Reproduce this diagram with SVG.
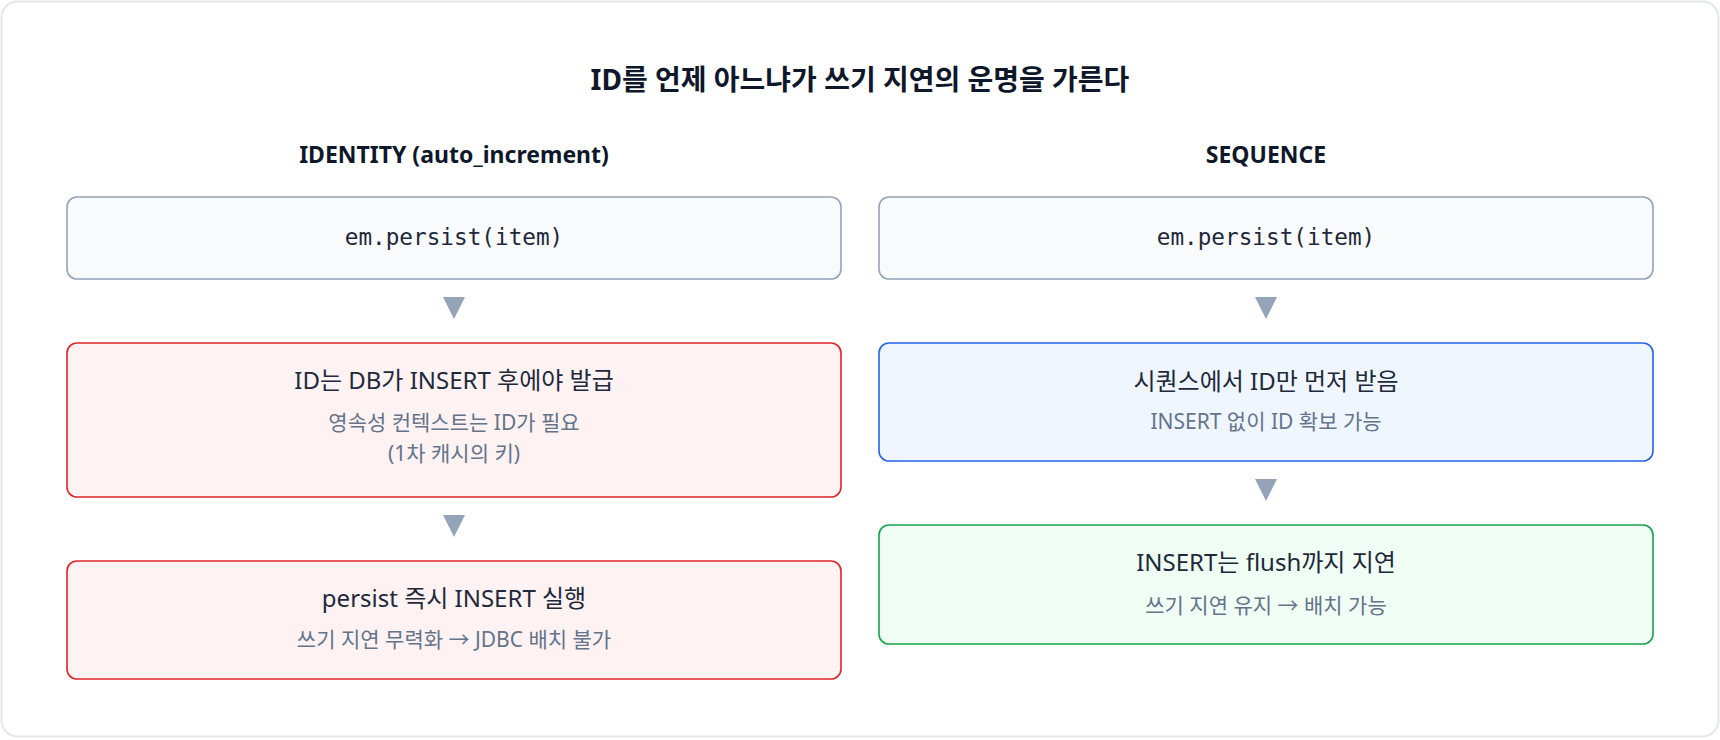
<svg xmlns="http://www.w3.org/2000/svg" width="1720" height="740" viewBox="0 0 1720 740">
  <style>
    .title { font-family: "Noto Sans", "Noto Sans CJK KR", sans-serif; font-size: 28px; font-weight: 700; fill: #0f172a; text-anchor: middle; }
    .head { font-family: "Noto Sans", "Noto Sans CJK KR", sans-serif; font-size: 23px; font-weight: 700; fill: #0f172a; text-anchor: middle; }
    .mono { font-family: "DejaVu Sans Mono", "Liberation Mono", monospace; font-size: 22.7px; fill: #1e293b; text-anchor: middle; }
    .main { font-family: "Noto Sans", "Noto Sans CJK KR", sans-serif; font-size: 24px; fill: #1e293b; text-anchor: middle; }
    .sub { font-family: "Noto Sans", "Noto Sans CJK KR", sans-serif; font-size: 21px; fill: #64748b; text-anchor: middle; }
    .neutral { fill: #f8fafc; stroke: #94a3b8; stroke-width: 1.6; }
    .bad { fill: #fef2f2; stroke: #dc2626; stroke-width: 1.6; }
    .info { fill: #eff6ff; stroke: #2563eb; stroke-width: 1.6; }
    .good { fill: #f0fdf4; stroke: #16a34a; stroke-width: 1.6; }
    .arrow { fill: #94a3b8; }
  </style>
  <rect x="0" y="0" width="1720" height="740" fill="#ffffff"/>
  <rect x="1.5" y="1.5" width="1717" height="735" rx="16" fill="#ffffff" stroke="#e5e7eb" stroke-width="2"/>

  <g id="title">
    <text class="title" x="860" y="90">ID를 언제 아느냐가 쓰기 지연의 운명을 가른다</text>
  </g>
  <g id="heading-identity">
    <text class="head" x="454" y="163">IDENTITY (auto_increment)</text>
  </g>
  <g id="heading-sequence">
    <text class="head" x="1266" y="163">SEQUENCE</text>
  </g>

  <g id="connectors">
    <polygon class="arrow" points="443,297 465,297 454,319"/>
    <polygon class="arrow" points="443,515 465,515 454,537"/>
    <polygon class="arrow" points="1255,297 1277,297 1266,319"/>
    <polygon class="arrow" points="1255,479 1277,479 1266,501"/>
  </g>

  <g id="identity-persist">
    <rect class="neutral" x="67" y="197" width="774" height="82" rx="10"/>
    <text class="mono" x="454" y="245">em.persist(item)</text>
  </g>
  <g id="identity-id-issue">
    <rect class="bad" x="67" y="343" width="774" height="154" rx="10"/>
    <text class="main" x="454" y="389">ID는 DB가 INSERT 후에야 발급</text>
    <text class="sub" x="454" y="430">영속성 컨텍스트는 ID가 필요</text>
    <text class="sub" x="454" y="461">(1차 캐시의 키)</text>
  </g>
  <g id="identity-insert">
    <rect class="bad" x="67" y="561" width="774" height="118" rx="10"/>
    <text class="main" x="454" y="607">persist 즉시 INSERT 실행</text>
    <text class="sub" x="454" y="647">쓰기 지연 무력화 → JDBC 배치 불가</text>
  </g>

  <g id="sequence-persist">
    <rect class="neutral" x="879" y="197" width="774" height="82" rx="10"/>
    <text class="mono" x="1266" y="245">em.persist(item)</text>
  </g>
  <g id="sequence-id-fetch">
    <rect class="info" x="879" y="343" width="774" height="118" rx="10"/>
    <text class="main" x="1266" y="390">시퀀스에서 ID만 먼저 받음</text>
    <text class="sub" x="1266" y="429">INSERT 없이 ID 확보 가능</text>
  </g>
  <g id="sequence-insert">
    <rect class="good" x="879" y="525" width="774" height="119" rx="10"/>
    <text class="main" x="1266" y="571">INSERT는 flush까지 지연</text>
    <text class="sub" x="1266" y="613">쓰기 지연 유지 → 배치 가능</text>
  </g>
</svg>
